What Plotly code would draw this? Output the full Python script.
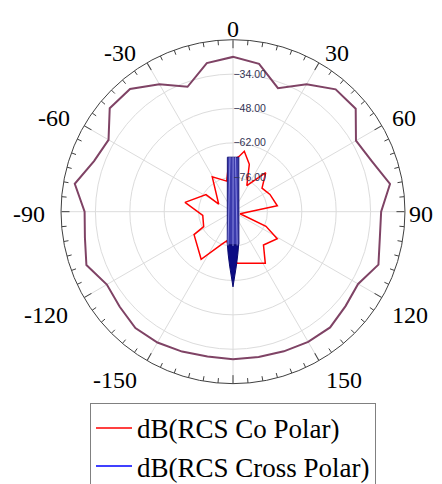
import plotly.graph_objects as go

# ---- data (angles in degrees, values in dB) ----
outer_theta = list(range(-180, 181, 10))
outer_db = [-29.9, -30.1, -29.4, -28.5, -28.2, -29.8, -30.7, -26.5, -28.8, -29.6,
            -24.6, -29.8, -31.5, -24.5, -24.8, -30.1, -35.9, -28.6, -27.0, -28.9,
            -36.5, -30.1, -25.0, -24.8, -32.2, -29.9, -25.1, -29.7, -29.3, -27.0,
            -31.2, -30.2, -28.5, -28.8, -29.5, -29.9, -29.9]

co_theta = [-5, 6, 10.6, 19, 28, 40, 51, 65, 82.4, 106, 114, 121.4, 137.6, 148,
            175.6, -167.9, -161.2, -146.2, -120.5, -117, -97, -79, -57.7, -62,
            -30.8, -11.6, -5]
co_db = [-70.0, -67.5, -65.0, -69.6, -78.0, -69.3, -74.8, -73.4, -71.8, -87.0,
         -75.3, -68.9, -71.6, -65.2, -68.9, -77.8, -76.0, -66.7, -71.6, -76.6,
         -77.6, -70.1, -77.0, -83.4, -73.5, -77.3, -70.0]

# cross polar: narrow beam, upper body and lower tip
cross_theta = [-5.9, 6.1, 169.8, -170.1, -5.9]
cross_db = [-67.7, -67.7, -76.4, -76.4, -67.7]
tip_theta = [170.5, 173.5, 176.5, 180, -176.5, -173.5, -170.5, 170.5]
tip_db = [-76.2, -72.6, -67.8, -59.4, -67.8, -72.6, -76.2, -76.2]
stripe_theta = [-3.2, -171.6, None, 0.1, 180, None, 2.6, 173.0, None]
stripe_db = [-67.8, -76.1, None, -67.8, -76.0, None, -67.8, -76.1, None]

r_ticks = [-76, -62, -48, -34]
ang_ticks = list(range(0, 360, 30))
ang_labels = ["0", "30", "-30", "60", "-60", "90", "-90", "120", "-120", "150", "-150"]
# where the angle labels sit in the 442x484 picture (px, centre of text)
ang_label_x = [233, 337, 120, 404, 54, 421, 29, 410, 46, 344, 115]
ang_label_y = [24, 49, 49, 116, 116, 216, 216, 322, 322, 389, 389]

R_MIN, R_MAX = -90, -20
SERIF = "Times New Roman, Liberation Serif, DejaVu Serif, serif"
OFF_X, OFF_Y = 8, 2  # page offset of the figure in the screenshot
W, H = 442, 484

# minor angular ticks every 5 degrees (decoration)
minor_theta, minor_r = [], []
for a in range(0, 360, 5):
    if a % 30:
        minor_theta += [a, a, None]
        minor_r += [R_MAX, R_MAX - 2.0, None]

fig = go.Figure()
fig.add_trace(go.Scatterpolar(
    r=minor_r, theta=minor_theta, mode="lines",
    line=dict(color="#404040", width=1), showlegend=False, hoverinfo="skip",
))
fig.add_trace(go.Scatterpolar(
    r=outer_db, theta=outer_theta, mode="lines", name="dB(RCS)",
    line=dict(color="#7f4365", width=2), showlegend=False,
))
fig.add_trace(go.Scatterpolar(
    r=co_db, theta=co_theta, mode="lines", name="dB(RCS Co Polar)",
    line=dict(color="#ff0000", width=1.5),
))
fig.add_trace(go.Scatterpolar(
    r=cross_db, theta=cross_theta, mode="lines", fill="toself",
    fillcolor="#3a3aac", line=dict(color="#1a1a7a", width=1),
    showlegend=False,
))
fig.add_trace(go.Scatterpolar(
    r=tip_db, theta=tip_theta, mode="lines", fill="toself",
    fillcolor="#0c0c84", line=dict(color="#0a0a70", width=1),
    showlegend=False,
))
fig.add_trace(go.Scatterpolar(
    r=stripe_db, theta=stripe_theta, mode="lines", connectgaps=False,
    line=dict(color="#8a8ae0", width=1), showlegend=False, hoverinfo="skip",
))
# legend entry for cross polar
fig.add_trace(go.Scatterpolar(
    r=[None], theta=[None], mode="lines", name="dB(RCS Cross Polar)",
    line=dict(color="#0000ff", width=1.5),
))

# angle labels as text placed around the dial
for txt, px, py in zip(ang_labels, ang_label_x, ang_label_y):
    fig.add_annotation(
        text=txt, xref="paper", yref="paper",
        x=(px - OFF_X) / W, y=1 - (py - OFF_Y) / H,
        xanchor="center", yanchor="middle", showarrow=False,
        font=dict(family=SERIF, size=24, color="black"),
    )

fig.update_layout(
    width=W, height=H,
    paper_bgcolor="white",
    margin=dict(l=0, r=0, t=0, b=0),
    polar=dict(
        domain=dict(x=[(55 - OFF_X) / W, (411 - OFF_X) / W],
                    y=[1 - (393 - OFF_Y) / H, 1 - (35 - OFF_Y) / H]),
        bgcolor="white",
        angularaxis=dict(
            rotation=90, direction="clockwise",
            tickmode="array", tickvals=ang_ticks, ticktext=[""] * len(ang_ticks),
            ticks="inside", ticklen=8, tickcolor="#404040",
            linecolor="#404040", linewidth=1,
            gridcolor="#dcdcdc", gridwidth=1,
        ),
        radialaxis=dict(
            range=[R_MIN, R_MAX], angle=90, side="clockwise", tickangle=90,
            tickmode="array", tickvals=r_ticks, tickformat=".2f",
            ticks="", showline=False,
            gridcolor="#dcdcdc", gridwidth=1,
            tickfont=dict(family="Liberation Sans, Arial, sans-serif", size=10.5,
                          color="#333355"),
        ),
    ),
    legend=dict(
        x=(90 - OFF_X) / W, y=1 - (413 - OFF_Y) / H, xanchor="left", yanchor="top",
        bgcolor="white", bordercolor="#808080", borderwidth=1,
        font=dict(family=SERIF, size=27, color="black"),
        itemwidth=36, tracegroupgap=0,
    ),
)

fig.write_html("out.html")
